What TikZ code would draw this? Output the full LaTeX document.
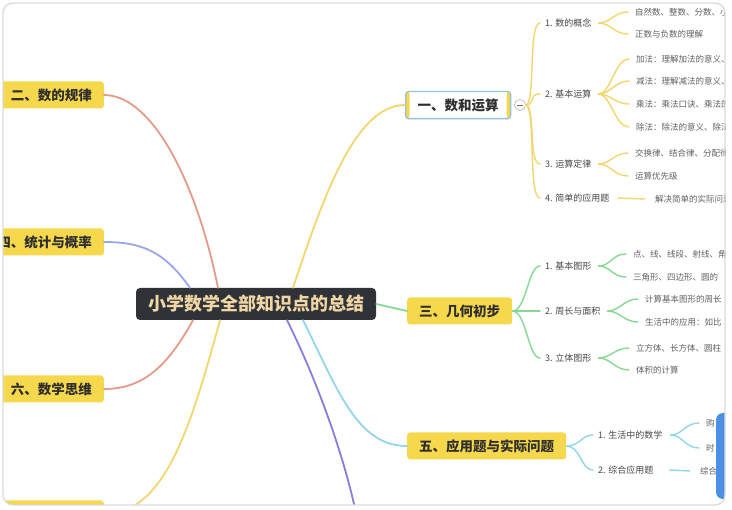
\documentclass[tikz,border=0pt]{standalone}
\usepackage{fontspec}
\setmainfont{Noto Sans CJK SC}
\usetikzlibrary{calc,shadows}

\definecolor{topicyellow}{RGB}{246,216,76}
\definecolor{rootgray}{RGB}{47,50,55}
\definecolor{roottext}{RGB}{240,214,164}
\definecolor{lyellow}{RGB}{243,214,110}
\definecolor{lsalmon}{RGB}{228,156,136}
\definecolor{llav}{RGB}{155,166,234}
\definecolor{lgreen}{RGB}{134,217,146}
\definecolor{lblue}{RGB}{146,214,234}
\definecolor{lpurple}{RGB}{140,124,220}
\definecolor{selblue}{RGB}{150,194,226}
\definecolor{barblue}{RGB}{76,144,230}

\begin{document}
\begin{tikzpicture}[x=1pt, y=-1pt,
		topic/.style={fill=topicyellow, rounded corners=3pt, text=black!82, inner xsep=12pt, minimum height=27pt, font=\bfseries\fontsize{13.5}{16}\selectfont},
		sub/.style={anchor=west, inner sep=0pt, text=black!72, font=\fontsize{9}{11}\selectfont},
		leaf/.style={anchor=west, inner sep=0pt, text=black!62, font=\fontsize{8.5}{10}\selectfont},
		branch/.style={line width=1.8pt, line cap=round},
		twig/.style={line width=1.4pt, line cap=round}]
	\fill[white] (0,0) rectangle (732,510);
	\begin{scope}
		\clip[rounded corners=10pt] (3,3) rectangle (725,505);
		% centre
		\node[fill=rootgray, rounded corners=4pt, text=roottext, inner xsep=12pt, minimum height=32pt, font=\bfseries\fontsize{18}{21}\selectfont] (root) at (256,304) {小学数学全部知识点的总结};
		% main topics
		\node[topic, fill=white, draw=selblue, line width=1.3pt, drop shadow={shadow xshift=0pt, shadow yshift=-1.5pt, opacity=0.18},
			path picture={\fill[topicyellow] (path picture bounding box.south west) rectangle ([xshift=4pt]path picture bounding box.north west);
				\fill[topicyellow] (path picture bounding box.south east) rectangle ([xshift=-4pt]path picture bounding box.north east);},
			anchor=west] (t1) at (405,105) {一、数和运算};
		\node[draw=black!40, fill=white, circle, inner sep=0pt, minimum size=11pt] (fold) at (520,105) {};
		\draw[black!55, line width=0.8pt] ($(fold.center)+(-3,0)$) -- ($(fold.center)+(3,0)$);
		\node[topic, anchor=east] (t2) at (104,95) {二、数的规律};
		\node[topic, anchor=west] (t3) at (407,311) {三、几何初步};
		\node[topic, anchor=east] (t4) at (104,242) {四、统计与概率};
		\node[topic, anchor=west] (t5) at (407,446) {五、应用题与实际问题};
		\node[topic, anchor=east] (t6) at (104,389) {六、数学思维};
		\node[topic, anchor=east, minimum width=104pt] (t7) at (104,514) {};
		\coordinate (pend) at (357,518);
		% root connectors
		\draw[branch, lyellow] ($(root.north)+(37,0)$) .. controls +(30,-90) and +(-50,0) .. (t1.west);
		\draw[branch, lsalmon] ($(root.north)+(-38,0)$) .. controls +(-20,-100) and +(50,0) .. (t2.east);
		\draw[branch, llav] ($(root.north)+(-66,0)$) .. controls +(-25,-35) and +(40,0) .. (t4.east);
		\draw[branch, lsalmon] ($(root.south)+(-63,0)$) .. controls +(-25,45) and +(40,0) .. (t6.east);
		\draw[branch, lyellow] ($(root.south)+(-36,0)$) .. controls +(-30,110) and +(60,0) .. (t7.east);
		\draw[branch, lpurple] ($(root.south)+(31,0)$) .. controls +(30,60) and +(-12,-60) .. (pend);
		\draw[branch, lblue] ($(root.south)+(47,0)$) .. controls +(35,70) and +(-50,0) .. (t5.west);
		\draw[branch, lgreen] (root.east) -- (t3.west);
		% 一
		\node[sub] (a1) at (545,23) {1. 数的概念};
		\node[sub] (a2) at (545,94) {2. 基本运算};
		\node[sub] (a3) at (545,164) {3. 运算定律};
		\node[sub] (a4) at (545,198) {4. 简单的应用题};
		\foreach \s in {a1,a2,a3,a4}
			\draw[twig, lyellow] (fold.east) .. controls +(10,0) and +(-12,0) .. ($(\s.west)+(-5,0)$);
		\node[leaf] (a11) at (635,12) {自然数、整数、分数、小数};
		\node[leaf] (a12) at (635,34) {正数与负数的理解};
		\node[leaf] (a21) at (636,59) {加法：理解加法的意义、};
		\node[leaf] (a22) at (636,81) {减法：理解减法的意义、};
		\node[leaf] (a23) at (636,104) {乘法：乘法口诀、乘法的};
		\node[leaf] (a24) at (636,127) {除法：除法的意义、除法};
		\node[leaf] (a31) at (635,153) {交换律、结合律、分配律};
		\node[leaf] (a32) at (635,176) {运算优先级};
		\node[leaf] (a41) at (655,199) {解决简单的实际问题};
		\foreach \s/\l in {a1/a11,a1/a12,a2/a21,a2/a22,a2/a23,a2/a24,a3/a31,a3/a32}
			\draw[twig, lyellow] ($(\s.east)+(7,0)$) .. controls +(12,0) and +(-14,0) .. ($(\l.west)+(-7,0)$);
		\draw[twig, lyellow] ($(a4.east)+(8,0)$) -- ($(a41.west)+(-10,0)$);
		% 三
		\node[sub] (b1) at (545,266) {1. 基本图形};
		\node[sub] (b2) at (545,311) {2. 周长与面积};
		\node[sub] (b3) at (545,358) {3. 立体图形};
		\foreach \s in {b1,b2,b3}
			\draw[twig, lgreen] (t3.east) .. controls +(14,0) and +(-12,0) .. ($(\s.west)+(-5,0)$);
		\node[leaf] (b11) at (633,254) {点、线、线段、射线、角};
		\node[leaf] (b12) at (633,277) {三角形、四边形、圆的};
		\node[leaf] (b21) at (645,299) {计算基本图形的周长};
		\node[leaf] (b22) at (645,322) {生活中的应用：如比};
		\node[leaf] (b31) at (636,348) {立方体、长方体、圆柱};
		\node[leaf] (b32) at (636,370) {体积的计算};
		\foreach \s/\l in {b1/b11,b1/b12,b2/b21,b2/b22,b3/b31,b3/b32}
			\draw[twig, lgreen] ($(\s.east)+(7,0)$) .. controls +(12,0) and +(-14,0) .. ($(\l.west)+(-7,0)$);
		% 五
		\node[sub] (c1) at (598,435) {1. 生活中的数学};
		\node[sub] (c2) at (598,470) {2. 综合应用题};
		\foreach \s in {c1,c2}
			\draw[twig, lblue] (t5.east) .. controls +(14,0) and +(-12,0) .. ($(\s.west)+(-5,0)$);
		\node[leaf] (c11) at (706,423) {购};
		\node[leaf] (c12) at (706,448) {时};
		\node[leaf] (c21) at (700,471) {综合};
		\foreach \l in {c11,c12}
			\draw[twig, lblue] ($(c1.east)+(8,0)$) .. controls +(12,0) and +(-14,0) .. ($(\l.west)+(-7,0)$);
		\draw[twig, lblue] ($(c2.east)+(16,0)$) -- ($(c21.west)+(-10,0)$);
		% side bar
		\fill[barblue, rounded corners=7pt] (716,413) rectangle (740,499);
	\end{scope}
	\draw[black!14, line width=1.3pt, rounded corners=10pt] (3,3) rectangle (725,505);
\end{tikzpicture}
\end{document}
